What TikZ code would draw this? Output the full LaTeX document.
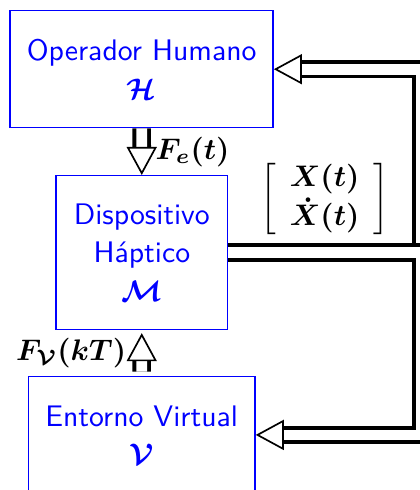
\documentclass[tikz,border=0pt]{standalone}
\usepackage{fix-cm}
\usepackage{amsmath,amssymb,bm}
\usetikzlibrary{arrows.meta,calc,positioning}
\tikzset{
  block/.style={draw=blue,line width=0.5pt,text=blue,align=center,font=\sffamily\fontsize{10.6}{12.7}\selectfont,inner sep=0pt},
  forcearrow/.style={-{Triangle[length=10pt,width=10.7pt,line width'=0.6pt,fill=white]},
    line width=1.4pt,double=white,double distance=3.8pt},
  signal/.style={inner sep=0pt,font=\fontsize{10.6}{12.7}\selectfont}
}

\begin{document}
\begin{tikzpicture}[x=1mm,y=1mm]
  \useasboundingbox (0,0) rectangle (52.62,61.39);

  % Blocks of the teleoperation loop.
  \node[block,minimum width=32.95mm,minimum height=14.66mm] (human) at (17.75,52.72)
    {Operador Humano\\[1pt]$\boldsymbol{\mathcal{H}}$};
  \node[block,minimum width=21.51mm,minimum height=19.24mm] (device) at (17.77,29.76)
    {Dispositivo\\[1pt]Háptico\\[1pt]$\boldsymbol{\mathcal{M}}$};
  \node[block,minimum width=28.40mm,minimum height=14.66mm] (virtual) at (17.75,6.9)
    {Entorno Virtual\\[1pt]$\boldsymbol{\mathcal{V}}$};

  % Vertical return rail on the right edge.
  \coordinate (rail) at (52.75,29.76);

  % Forces between the blocks.
  \draw[forcearrow] (human) -- node[signal,midway,right=1.5mm] {$\boldsymbol{F_e(t)}$} (device);
  \draw[forcearrow,shorten <=0.5mm,shorten >=0.4mm] (virtual) --
    node[signal,midway,left=1.7mm] {$\boldsymbol{F_{\mathcal{V}}(kT)}$} (device);

  % State fed back to the operator and to the virtual environment.
  \draw[forcearrow] (device.east) --
    node[signal,midway,above=1.8mm]
      {$\left[\begin{array}{c}\boldsymbol{X(t)}\\\boldsymbol{\dot{X}(t)}\end{array}\right]$}
    (device.east -| rail) |- (human.east);
  \draw[forcearrow] (device.east) -- (device.east -| rail) |- (virtual.east);
\end{tikzpicture}
\end{document}
